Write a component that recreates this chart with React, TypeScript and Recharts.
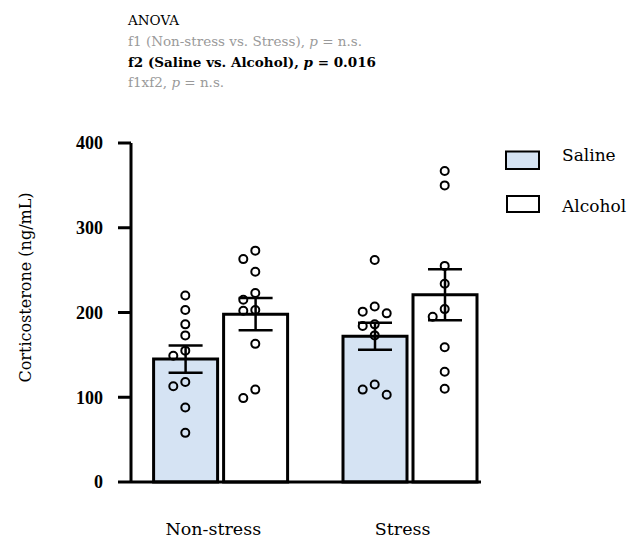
import React from 'react';
import { BarChart, Bar, Scatter, XAxis, YAxis, ErrorBar, Legend } from 'recharts';

// groups and series
const groups = ['Non-stress', 'Stress'];
const seriesNames = ['Saline', 'Alcohol'];

// bar heights (mean) and SEM
const salineMean = [145, 172];
const salineSem = [16, 16];
const alcoholMean = [198, 221];
const alcoholSem = [19, 30];

// individual animals
const salineNonStress = [220, 203, 186, 173, 155, 149, 118, 113, 88, 58];
const salineStress = [262, 207, 201, 199, 186, 184, 173, 115, 109, 103];
const alcoholNonStress = [273, 263, 248, 223, 215, 203, 202, 163, 109, 99];
const alcoholStress = [367, 350, 255, 234, 204, 195, 159, 130, 110];

const yTicks = [0, 100, 200, 300, 400];

// layout
const W = 633;
const H = 539;
const PLOT_LEFT = 131;
const PLOT_RIGHT = 481;
const PLOT_TOP = 143;
const PLOT_BOTTOM = 482;
const PAD_L = -5.4;
const PAD_R = -23.4;
const BAND = (PLOT_RIGHT - PAD_R - (PLOT_LEFT + PAD_L)) / 2;
const BAR_SIZE = 64;
const BAR_GAP = 6;
const BAR_OFF = (BAR_SIZE + BAR_GAP) / 2;
const PX_PER_UNIT = (PLOT_BOTTOM - PLOT_TOP) / 400;
const SLOT = 12;
const MIN_DIST = 11;

const SERIF = 'DejaVu Serif';
const BLUE = '#d5e3f3';

const barData = groups.map((g, i) => ({
  group: g,
  saline: salineMean[i],
  salineSem: salineSem[i],
  alcohol: alcoholMean[i],
  alcoholSem: alcoholSem[i],
}));

// simple beeswarm so overlapping dots are pushed sideways
function swarm(values: number[]) {
  const placed: { v: number; px: number; py: number }[] = [];
  const sorted = [...values].sort((a, b) => b - a);
  for (const v of sorted) {
    const py = v * PX_PER_UNIT;
    for (const k of [0, -1, 1, -2, 2, -3, 3]) {
      const px = k * SLOT;
      if (placed.every((p) => Math.hypot(p.px - px, p.py - py) >= MIN_DIST)) {
        placed.push({ v, px, py });
        break;
      }
    }
  }
  return placed;
}

const toPoints = (perGroup: number[][], side: number) =>
  perGroup.flatMap((vals, gi) =>
    swarm(vals).map((p) => ({ x: gi + (side * BAR_OFF + p.px) / BAND, y: p.v }))
  );

const salinePoints = toPoints([salineNonStress, salineStress], -1);
const alcoholPoints = toPoints([alcoholNonStress, alcoholStress], 1);

const Dot = (props: any) => (
  <circle cx={props.cx} cy={props.cy} r={4} fill="none" stroke="#000" strokeWidth={2} />
);

const XTick = ({ x, y, payload }: any) => (
  <text x={x - 7} y={y} dy="0.71em" textAnchor="middle" fontFamily={SERIF} fontSize={17.5} fill="#000">
    {payload.value}
  </text>
);

const renderLegend = () => (
  <svg width={140} height={85}>
    <rect x={16} y={11.5} width={33} height={17.5} fill={BLUE} stroke="#000" strokeWidth={2} />
    <rect x={17} y={56} width={32} height={16} fill="#fff" stroke="#000" strokeWidth={2} />
    <text x={72} y={21} fontFamily={SERIF} fontSize={17} fill="#000">{seriesNames[0]}</text>
    <text x={72} y={71.5} fontFamily={SERIF} fontSize={17} fill="#000">{seriesNames[1]}</text>
  </svg>
);

const App = () => {
  return (
    <div style={{ position: 'absolute', left: 0, top: 0, width: W, height: H, background: '#fff' }}>
      <BarChart
        width={W}
        height={H}
        data={barData}
        barSize={BAR_SIZE}
        barGap={BAR_GAP}
        margin={{ top: PLOT_TOP, right: W - PLOT_RIGHT, bottom: H - PLOT_BOTTOM - 30, left: PLOT_LEFT - 60 }}
      >
        <XAxis
          dataKey="group"
          padding={{ left: PAD_L, right: PAD_R }}
          tickLine={false}
          axisLine={{ stroke: '#000', strokeWidth: 3 }}
          tickMargin={35}
          height={30}
          tick={<XTick />}
        />
        <XAxis
          xAxisId="jit"
          dataKey="x"
          type="number"
          domain={[-0.5, 1.5]}
          padding={{ left: PAD_L, right: PAD_R }}
          hide
        />
        <YAxis
          domain={[0, 400]}
          ticks={yTicks}
          width={60}
          tickSize={13}
          tickMargin={15}
          axisLine={{ stroke: '#000', strokeWidth: 3 }}
          tickLine={{ stroke: '#000', strokeWidth: 3 }}
          tick={{ fill: '#000', fontSize: 18, fontFamily: 'Liberation Serif', fontWeight: 'bold' }}
        />
        <Legend
          layout="vertical"
          align="center"
          verticalAlign="middle"
          content={renderLegend}
          wrapperStyle={{ left: 490, top: 140, width: 140, height: 85 }}
        />
        <Bar dataKey="saline" name={seriesNames[0]} fill={BLUE} stroke="#000" strokeWidth={3} isAnimationActive={false}>
          <ErrorBar dataKey="salineSem" width={17} stroke="#000" strokeWidth={2.5} isAnimationActive={false} />
        </Bar>
        <Bar dataKey="alcohol" name={seriesNames[1]} fill="#fff" stroke="#000" strokeWidth={3} isAnimationActive={false}>
          <ErrorBar dataKey="alcoholSem" width={17} stroke="#000" strokeWidth={2.5} isAnimationActive={false} />
        </Bar>
        <Scatter xAxisId="jit" data={salinePoints} dataKey="y" shape={<Dot />} isAnimationActive={false} legendType="none" />
        <Scatter xAxisId="jit" data={alcoholPoints} dataKey="y" shape={<Dot />} isAnimationActive={false} legendType="none" />
      </BarChart>
      <svg width={W} height={H} style={{ position: 'absolute', left: 0, top: 0, pointerEvents: 'none' }}>
        <g fontFamily={SERIF} fontSize={13.5}>
          <text x={128} y={25} fill="#000">ANOVA</text>
          <text x={128} y={46} fill="#9a9a9a">
            f1 (Non-stress vs. Stress), <tspan fontStyle="italic">p</tspan> = n.s.
          </text>
          <text x={128} y={67} fill="#000" fontWeight="bold">
            f2 (Saline vs. Alcohol), <tspan fontStyle="italic">p</tspan> = 0.016
          </text>
          <text x={128} y={87} fill="#9a9a9a">
            f1xf2, <tspan fontStyle="italic">p</tspan> = n.s.
          </text>
        </g>
        <text transform="translate(31,287.5) rotate(-90)" textAnchor="middle" fontFamily={SERIF} fontSize={16} fill="#000">
          Corticosterone (ng/mL)
        </text>
      </svg>
    </div>
  );
};

export default App;
